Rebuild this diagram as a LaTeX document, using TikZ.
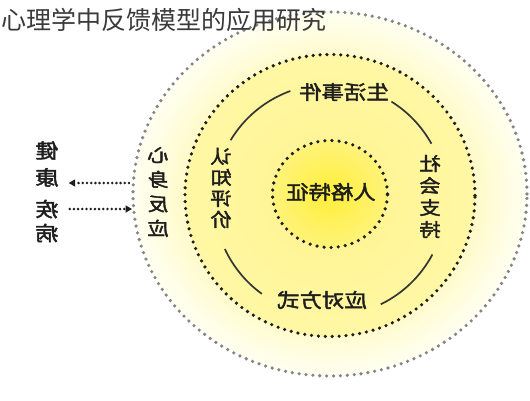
\documentclass[tikz,border=0pt]{standalone}
\usepackage{fontspec}
\usepackage{graphicx}
\usetikzlibrary{arrows.meta}
\newfontfamily\cjk{Noto Sans CJK SC}
\newfontfamily\cjkb{Noto Sans CJK SC}[FakeBold=2]
\definecolor{ink}{HTML}{1E1E1E}
\definecolor{titlegray}{HTML}{3A3A3A}
\definecolor{dotgray}{HTML}{858585}
\definecolor{glowin}{HTML}{FFFAC6}
\definecolor{glowout}{HTML}{FFFFF2}
\definecolor{ringfill}{HTML}{FFF7A4}
\definecolor{ringin}{HTML}{FFF48E}
\definecolor{corein}{HTML}{FFEE38}
\definecolor{coreout}{HTML}{FFF37A}
\pgfdeclareradialshading{glow}{\pgfpointorigin}{color(0bp)=(glowin); color(18bp)=(glowin); color(25bp)=(glowout); color(50bp)=(glowout)}
% mirrored label text, as in the picture
\newcommand\mirr[1]{\scalebox{-1.15}[1]{#1}}

\begin{document}
\begin{tikzpicture}[x=1pt,y=1pt,
  label/.style={font=\cjkb\fontsize{19.5}{19.5}\selectfont,text=ink,inner sep=0pt},
  vlabel/.style={font=\cjkb\fontsize{18.5}{#1}\selectfont,text=ink,inner sep=0pt,align=center},
  dotring/.style={line cap=round,dash pattern=on 0pt off 6.9pt,line width=3.6pt},
  arcline/.style={draw=ink!90,line width=1.7pt},
  dotarrow/.style={ink,line cap=round,dash pattern=on 0pt off 4.2pt,line width=2.8pt,
    -{Triangle[length=6.5pt,width=7pt]}}]
\useasboundingbox (0,0) rectangle (530,400);
\coordinate (c) at (330,206);
\coordinate (m) at (330,200);
% rings
\shade[shading=glow] (c) ellipse[x radius=197pt,y radius=182pt];
\draw[dotring,dotgray] (c) ellipse[x radius=197pt,y radius=182pt];
\shade[inner color=ringin,outer color=ringfill] (330,204.5) ellipse[x radius=145pt,y radius=141pt];
\draw[dotring,ink] (330,204.5) ellipse[x radius=145pt,y radius=141pt];
\shade[inner color=corein,outer color=coreout] (c) ellipse[x radius=57.5pt,y radius=53.5pt];
\draw[dotring,ink,dash pattern=on 0pt off 7.1pt] (c) ellipse[x radius=57.5pt,y radius=53.5pt];
% title
\node[anchor=west,font=\cjk\fontsize{25}{25}\selectfont,text=titlegray,inner sep=0pt] (title) at (1,380.5) {心理学中反馈模型的应用研究};
% labels
\node[label] (core) at (331,208) {\mirr{人格特征}};
\node[label] (life) at (344,308) {\mirr{生活事件}};
\node[label] (cope) at (322,100) {\mirr{应对方式}};
\node[vlabel=22pt] (support) at (430,203.5) {\mirr{社}\\\mirr{会}\\\mirr{支}\\\mirr{持}};
\node[vlabel=21pt] (appraise) at (221,212) {\mirr{认}\\\mirr{知}\\\mirr{评}\\\mirr{价}};
\node[vlabel=24.5pt] (body) at (158,208) {\mirr{心}\\\mirr{身}\\\mirr{反}\\\mirr{应}};
\node[vlabel=27pt,font=\cjkb\fontsize{20}{27}\selectfont] (health) at (47,236) {\mirr{健}\\\mirr{康}};
\node[vlabel=24pt,font=\cjkb\fontsize{20}{24}\selectfont] (ill) at (47,179) {\mirr{疾}\\\mirr{病}};
% arcs between the labels
\draw[arcline] ([shift={(110:116)}]m) arc[start angle=110,end angle=149,radius=116pt];
\draw[arcline] ([shift={(58:116)}]m) arc[start angle=58,end angle=29,radius=116pt];
\draw[arcline] ([shift={(205:116)}]m) arc[start angle=205,end angle=234,radius=116pt];
\draw[arcline] ([shift={(296:116)}]m) arc[start angle=296,end angle=332,radius=116pt];
% arrows to the left
\coordinate (hr) at (129,217);
\coordinate (il) at (132,191);
\draw[dotarrow,shorten >=10pt] (hr) -- (health.east |- hr);
\draw[dotarrow,shorten <=11pt] (ill.east |- il) -- (il);
\end{tikzpicture}
\end{document}
